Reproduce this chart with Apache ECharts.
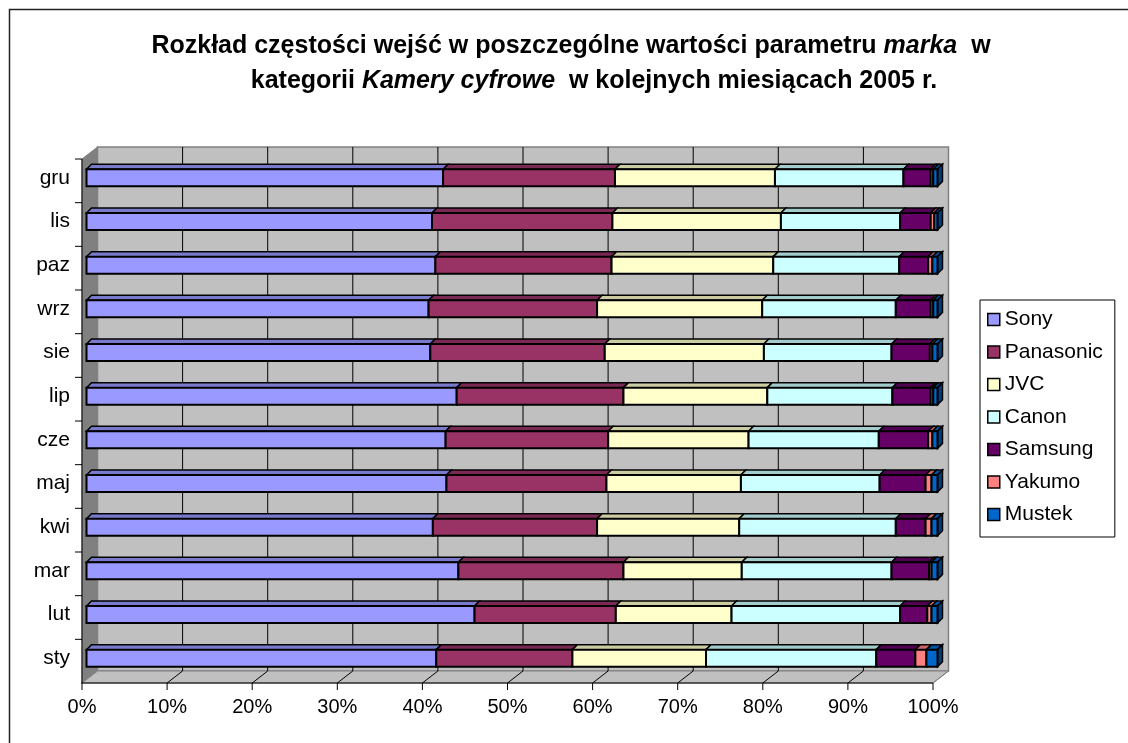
<!DOCTYPE html>
<html>
<head>
<meta charset="utf-8">
<script src="https://cdn.jsdelivr.net/npm/echarts@6/dist/echarts.min.js"></script>
<style>
html,body{margin:0;padding:0;background:#fff;}
#chart{width:1128px;height:743px;}
</style>
</head>
<body>
<div id="chart"></div>
<script>
// ---- data (percent shares per month) ----
const months = ['sty','lut','mar','kwi','maj','cze','lip','sie','wrz','paz','lis','gru'];
const brands = ['Sony','Panasonic','JVC','Canon','Samsung','Yakumo','Mustek'];
const sony      = [41.1,45.6,43.7,40.7,42.3,42.2,43.5,40.4,40.2,41.0,40.6,41.9];
const panasonic = [16.0,16.6,19.4,19.3,18.8,19.1,19.6,20.5,19.8,20.7,21.2,20.2];
const jvc       = [15.7,13.6,13.9,16.7,15.8,16.5,16.9,18.7,19.4,19.0,19.8,18.8];
const canon     = [20.0,19.8,17.6,18.4,16.3,15.3,14.7,15.0,15.7,14.8,14.0,15.1];
const samsung   = [4.6,3.2,4.4,3.5,5.4,5.8,4.5,4.5,4.1,3.4,3.6,3.2];
const yakumo    = [1.3,0.5,0.3,0.7,0.7,0.5,0.3,0.3,0.3,0.5,0.4,0.3];
const mustek    = [1.3,0.7,0.7,0.7,0.7,0.6,0.5,0.6,0.5,0.6,0.4,0.5];
const xTicks = [0,10,20,30,40,50,60,70,80,90,100];

const values = [sony, panasonic, jvc, canon, samsung, yakumo, mustek];
const frontColors = ['#9999FF','#993366','#FFFFCC','#CCFFFF','#660066','#FF8080','#0066CC'];
const topColors   = ['#7A7ACC','#7A2952','#CCCCA3','#A3CCCC','#520052','#CC6666','#0052A3'];
const sideColor = '#003D7A';

const FONT = '"Liberation Sans", Arial, sans-serif';
const BACK = {dx: 11, dy: -9};
const FRONT = {dx: -4.5, dy: 3};
const DEPTH = 5;

// stacked (100%) start/end per series
const totals = months.map((m, i) => values.reduce((s, arr) => s + arr[i], 0));
const cum = months.map(() => 0);
const stacked = values.map(arr => arr.map((v, i) => {
  const s = cum[i] / totals[i] * 100;
  cum[i] += v;
  const e = cum[i] / totals[i] * 100;
  return [i, s, e];
}));

function bgRender(params, api) {
  const cs = params.coordSys;
  const L = cs.x, R = cs.x + cs.width, T = cs.y, B = cs.y + cs.height;
  const ch = [];
  // back wall
  ch.push({type:'rect', shape:{x:L+BACK.dx, y:T+BACK.dy, width:R-L, height:B-T},
    style:{fill:'#C0C0C0', stroke:'#808080', lineWidth:1.5}});
  // left wall
  ch.push({type:'polygon', shape:{points:[[L+FRONT.dx,T+FRONT.dy],[L+BACK.dx,T+BACK.dy],[L+BACK.dx,B+BACK.dy],[L+FRONT.dx,B+FRONT.dy]]},
    style:{fill:'#808080', stroke:'#808080', lineWidth:1}});
  // floor
  ch.push({type:'polygon', shape:{points:[[L+FRONT.dx,B+FRONT.dy],[R+FRONT.dx,B+FRONT.dy],[R+BACK.dx,B+BACK.dy],[L+BACK.dx,B+BACK.dy]]},
    style:{fill:'#C0C0C0', stroke:'#808080', lineWidth:1}});
  // gridlines on back wall and floor
  xTicks.forEach(v => {
    const x = api.coord([v, 0])[0];
    if (v > 0 && v < 100) {
      ch.push({type:'line', shape:{x1:x+BACK.dx, y1:T+BACK.dy, x2:x+BACK.dx, y2:B+BACK.dy},
        style:{stroke:'#000', lineWidth:1}});
    }
    if (v > 0) {
      ch.push({type:'line', shape:{x1:x+FRONT.dx, y1:B+FRONT.dy, x2:x+BACK.dx, y2:B+BACK.dy},
        style:{stroke:v < 100 ? '#000' : '#808080', lineWidth:1}});
    }
    // x tick
    ch.push({type:'line', shape:{x1:x+FRONT.dx, y1:B+FRONT.dy, x2:x+FRONT.dx, y2:B+FRONT.dy+7},
      style:{stroke:'#000', lineWidth:1}});
  });
  // x axis line
  ch.push({type:'line', shape:{x1:L+FRONT.dx-1, y1:B+FRONT.dy, x2:R+FRONT.dx, y2:B+FRONT.dy},
    style:{stroke:'#000', lineWidth:1}});
  // y axis line + ticks at category boundaries
  ch.push({type:'line', shape:{x1:L+FRONT.dx, y1:T+FRONT.dy, x2:L+FRONT.dx, y2:B+FRONT.dy},
    style:{stroke:'#000', lineWidth:1}});
  const band = cs.height / months.length;
  for (let k = 0; k < months.length; k++) {
    const y = T + FRONT.dy + k * band;
    ch.push({type:'line', shape:{x1:L+FRONT.dx-7, y1:y, x2:L+FRONT.dx, y2:y},
      style:{stroke:'#000', lineWidth:1}});
  }
  return {type:'group', children:ch};
}

function makeBarRender(si) {
  const isLast = si === values.length - 1;
  return function (params, api) {
    const cat = api.value(0), s = api.value(1), e = api.value(2);
    const p0 = api.coord([s, cat]);
    const p1 = api.coord([e, cat]);
    const bh = api.size([0, 1])[1] * 0.39;
    const yT = p0[1] - bh / 2, yB = p0[1] + bh / 2;
    const x0 = p0[0], x1 = p1[0];
    const ch = [];
    ch.push({type:'polygon', shape:{points:[[x0,yT],[x1,yT],[x1+DEPTH,yT-DEPTH],[x0+DEPTH,yT-DEPTH]]},
      style:{fill:topColors[si], stroke:'#000', lineWidth:1.5}});
    if (isLast) {
      ch.push({type:'polygon', shape:{points:[[x1,yT],[x1+DEPTH,yT-DEPTH],[x1+DEPTH,yB-DEPTH],[x1,yB]]},
        style:{fill:sideColor, stroke:'#000', lineWidth:1.5}});
    }
    ch.push({type:'rect', shape:{x:x0, y:yT, width:x1-x0, height:bh},
      style:{fill:frontColors[si], stroke:'#000', lineWidth:2}});
    return {type:'group', children:ch};
  };
}

const series = [{
  type:'custom', name:'_bg', z:1, silent:true,
  data:[[0, 0, 0]], encode:{x:1, y:0},
  renderItem: bgRender
}].concat(brands.map((b, si) => ({
  type:'custom', name:b, z:2,
  itemStyle:{color:frontColors[si], borderColor:'#000', borderWidth:1.5},
  data: stacked[si], encode:{x:[1,2], y:0},
  renderItem: makeBarRender(si)
})));

const titleRich = {
  b:{fontFamily:FONT, fontWeight:'bold', fontSize:25, color:'#000'},
  i:{fontFamily:FONT, fontWeight:'bold', fontStyle:'italic', fontSize:25, color:'#000'}
};

const chart = echarts.init(document.getElementById('chart'), null, {renderer:'canvas'});
chart.setOption({
  animation:false,
  backgroundColor:'#fff',
  textStyle:{fontFamily:FONT},
  graphic:[{type:'rect', shape:{x:9.5, y:9.5, width:1300, height:900},
    style:{fill:'none', stroke:'#222', lineWidth:1.5}, silent:true, z:-10}],
  title:[{
    text:'{b|Rozkład częstości wejść w poszczególne wartości parametru }{i|marka}{b|  w}',
    left:566, top:29, textAlign:'center',
    textStyle:{rich:titleRich}
  },{
    text:'{b|kategorii }{i|Kamery cyfrowe}{b|  w kolejnych miesiącach 2005 r.}',
    left:589, top:64, textAlign:'center',
    textStyle:{rich:titleRich}
  }],
  legend:{
    data:brands, orient:'vertical', left:980, top:300,
    padding:[9,12,12,7], itemGap:11.5, itemWidth:12, itemHeight:12, icon:'rect',
    borderColor:'#000', borderWidth:1,
    itemStyle:{borderColor:'#000', borderWidth:1.5},
    textStyle:{fontFamily:FONT, fontSize:21, color:'#000', lineHeight:20}
  },
  grid:{left:86.5, right:190.5, top:156, bottom:63, containLabel:false},
  xAxis:{
    type:'value', min:0, max:100, interval:10, offset:3,
    axisLine:{show:false}, axisTick:{show:false}, splitLine:{show:false},
    axisLabel:{formatter:'{value}%', margin:14, padding:[0,9,0,0],
      fontFamily:FONT, fontSize:20, color:'#000'}
  },
  yAxis:{
    type:'category', data:months, offset:4.5,
    axisLine:{show:false}, axisTick:{show:false}, splitLine:{show:false},
    axisLabel:{margin:12, padding:[6,0,0,0], fontFamily:FONT, fontSize:21, color:'#000'}
  },
  series: series
});
</script>
</body>
</html>
